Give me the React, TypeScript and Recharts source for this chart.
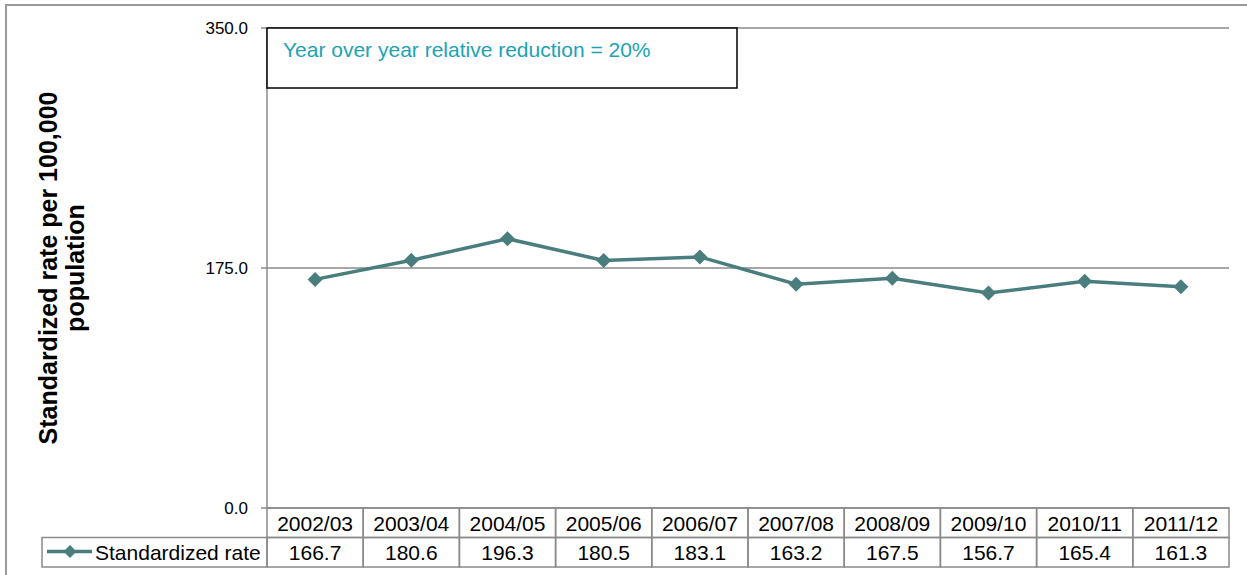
import { LineChart, Line, XAxis, YAxis, CartesianGrid } from "recharts";

const periods = [
  "2002/03",
  "2003/04",
  "2004/05",
  "2005/06",
  "2006/07",
  "2007/08",
  "2008/09",
  "2009/10",
  "2010/11",
  "2011/12",
];
const rates = [166.7, 180.6, 196.3, 180.5, 183.1, 163.2, 167.5, 156.7, 165.4, 161.3];
const yTicks = [0, 175, 350];
const seriesName = "Standardized rate";
const axisTitle = ["Standardized rate per 100,000", "population"];
const note = "Year over year relative reduction = 20%";

const data = periods.map((period, i) => ({ period, rate: rates[i] }));

const W = 1247;
const H = 575;
const PLOT_LEFT = 267;
const PLOT_RIGHT = 1229;
const PLOT_TOP = 28;
const PLOT_BOTTOM = 508;
const ROW_H = 29.5;
const BAND = (PLOT_RIGHT - PLOT_LEFT) / periods.length;
const LEGEND_LEFT = 42;

const LINE = "#4a7e7e";
const GRID = "#8a8a8a";
const FONT = "'Liberation Sans', Arial, sans-serif";

function Diamond({ cx, cy, r = 7.5 }: { cx: number; cy: number; r?: number }) {
  return (
    <polygon
      points={`${cx},${cy - r} ${cx + r},${cy} ${cx},${cy + r} ${cx - r},${cy}`}
      fill={LINE}
    />
  );
}

// each x tick draws one column of the data table under the plot
function TableTick(props: any) {
  const { x, payload } = props;
  const idx = payload.index ?? props.index;
  const left = x - BAND / 2;
  const r1 = PLOT_BOTTOM;
  const r2 = PLOT_BOTTOM + ROW_H;
  return (
    <g fontFamily={FONT} fontSize={21} fill="#000">
      <rect x={left} y={r1} width={BAND} height={ROW_H} fill="none" stroke={GRID} strokeWidth={1.5} />
      <rect x={left} y={r2} width={BAND} height={ROW_H} fill="none" stroke={GRID} strokeWidth={1.5} />
      <text x={x} y={r1 + 23} textAnchor="middle">
        {payload.value}
      </text>
      <text x={x} y={r2 + 22} textAnchor="middle">
        {rates[idx].toFixed(1)}
      </text>
      {idx === 0 && (
        <g>
          <rect
            x={LEGEND_LEFT}
            y={r2}
            width={left - LEGEND_LEFT}
            height={ROW_H}
            fill="none"
            stroke={GRID}
            strokeWidth={1.5}
          />
          <line x1={47} x2={92} y1={r2 + 14} y2={r2 + 14} stroke={LINE} strokeWidth={3.5} />
          <Diamond cx={70} cy={r2 + 14} r={6.5} />
          <text x={95} y={r2 + 22}>
            {seriesName}
          </text>
        </g>
      )}
    </g>
  );
}

export default function App() {
  return (
    <div style={{ position: "absolute", left: 0, top: 0, width: W, height: H, background: "#fff" }}>
      <LineChart
        width={W}
        height={H}
        data={data}
        margin={{ top: PLOT_TOP, right: W - PLOT_RIGHT, bottom: 0, left: 0 }}
      >
        <CartesianGrid vertical={false} stroke={GRID} strokeWidth={1.5} />
        <XAxis
          dataKey="period"
          interval={0}
          height={H - PLOT_BOTTOM}
          axisLine={false}
          tickLine={false}
          padding={{ left: BAND / 2, right: BAND / 2 }}
          tick={<TableTick />}
        />
        <YAxis
          width={PLOT_LEFT}
          domain={[0, 350]}
          ticks={yTicks}
          interval={0}
          tickFormatter={(v: number) => v.toFixed(1)}
          axisLine={{ stroke: GRID, strokeWidth: 1.5 }}
          tickLine={{ stroke: GRID, strokeWidth: 1.5 }}
          tickSize={6}
          tickMargin={13}
          tick={{ fill: "#000", fontSize: 17, fontFamily: FONT }}
        />
        <Line
          dataKey="rate"
          stroke={LINE}
          strokeWidth={3.5}
          isAnimationActive={false}
          dot={(p: any) => <Diamond key={`d-${p.index}`} cx={p.cx} cy={p.cy} />}
          activeDot={false}
        />
      </LineChart>
      <svg
        width={W}
        height={H}
        style={{ position: "absolute", left: 0, top: 0, pointerEvents: "none" }}
      >
        {/* outer frame */}
        <path d={`M6,${H} L6,5 L${W},5`} fill="none" stroke="#9a9a9a" strokeWidth={2} />
        {/* axis title */}
        <g
          transform={`translate(0, ${(PLOT_TOP + PLOT_BOTTOM) / 2}) rotate(-90)`}
          fontFamily={FONT}
          fontWeight="bold"
          fontSize={25}
          textAnchor="middle"
        >
          <text x={0} y={57}>{axisTitle[0]}</text>
          <text x={0} y={84}>{axisTitle[1]}</text>
        </g>
        {/* note box */}
        <rect x={PLOT_LEFT} y={PLOT_TOP} width={470} height={60} fill="#fff" stroke="#000" strokeWidth={1.5} />
        <text x={283} y={57} fontFamily={FONT} fontSize={21} fill="#1ba3b3">
          {note}
        </text>
      </svg>
    </div>
  );
}
